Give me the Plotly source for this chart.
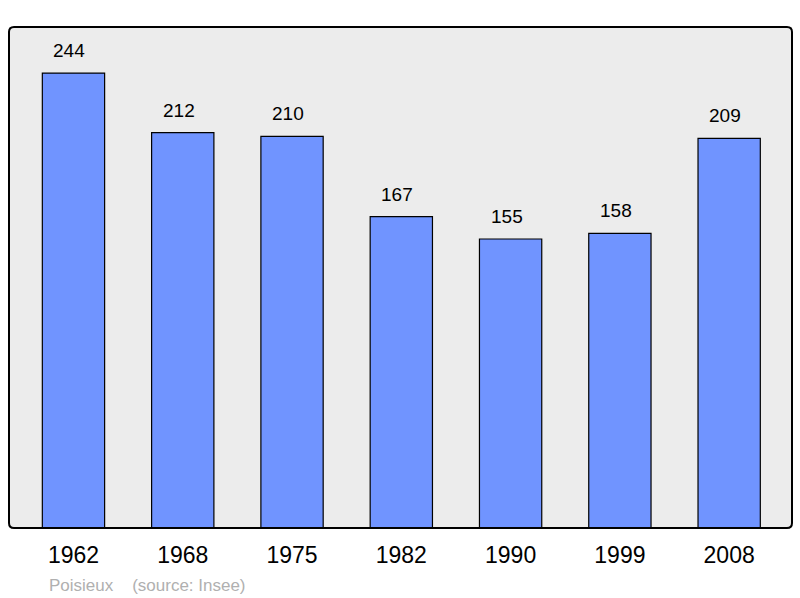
import plotly.graph_objects as go

years = ["1962", "1968", "1975", "1982", "1990", "1999", "2008"]
population = [244, 212, 210, 167, 155, 158, 209]
footer_text = "Poisieux    (source: Insee)"

W, H = 800, 598
L, R, T, B = 9, 8, 27, 70
PW, PH = W - L - R, H - T - B

fig = go.Figure()
fig.add_trace(go.Bar(
    x=list(range(len(years))), y=population,
    width=0.57,
    marker=dict(color="#7094ff", line=dict(color="#000000", width=1.2)),
    hoverinfo="skip",
))

for i, v in enumerate(population):
    fig.add_annotation(x=i, y=v, text=str(v), showarrow=False,
                       yanchor="bottom", yshift=10, xshift=-4,
                       font=dict(family="Liberation Sans, Arial", size=19, color="#000"))

fig.add_annotation(xref="paper", yref="paper", x=(47 - L) / PW, y=(H - B - 585) / PH,
                   text=footer_text, showarrow=False, xanchor="left", yanchor="middle",
                   font=dict(family="Liberation Sans, Arial", size=17, color="#b0b0b0"))

# rounded frame
rx, ry = 5 / PW, 5 / PH
path = (f"M {rx},0 L {1-rx},0 Q 1,0 1,{ry} L 1,{1-ry} Q 1,1 {1-rx},1 "
        f"L {rx},1 Q 0,1 0,{1-ry} L 0,{ry} Q 0,0 {rx},0 Z")
fig.add_shape(type="path", xref="paper", yref="paper", path=path,
              line=dict(color="#000", width=2), layer="above")

fig.update_layout(
    width=W, height=H,
    margin=dict(l=L, r=R, t=T, b=B),
    paper_bgcolor="#ffffff",
    plot_bgcolor="#ececec",
    showlegend=False,
    xaxis=dict(type="linear", range=[-0.59, 6.575], showgrid=False, zeroline=False, showline=False,
               ticks="", ticklabelstandoff=11,
               tickmode="array", tickvals=list(range(len(years))), ticktext=years,
               tickfont=dict(family="Liberation Sans, Arial", size=23, color="#000")),
    yaxis=dict(range=[0, 268.7], showgrid=False, zeroline=False, showticklabels=False, ticks=""),
)

fig.write_html("out.html", config={"displayModeBar": False},
               post_script="document.body.style.margin='0';")
